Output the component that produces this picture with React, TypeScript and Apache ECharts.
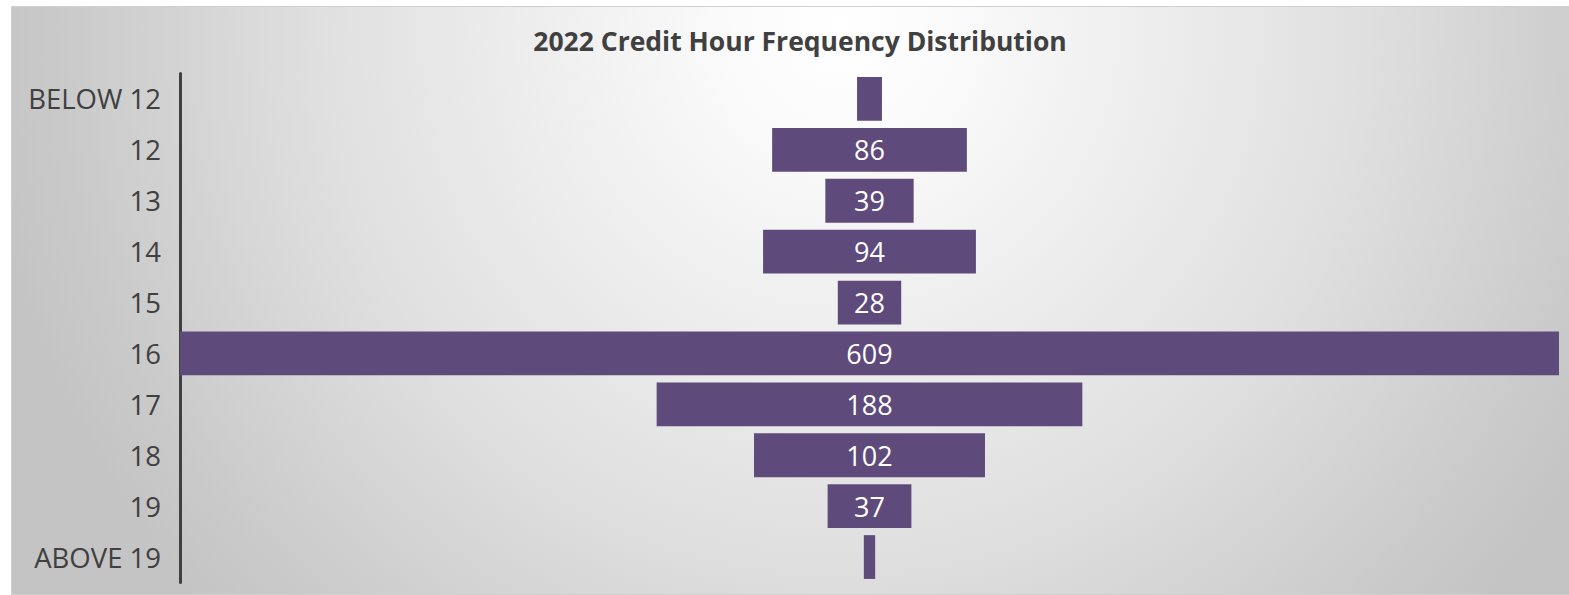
import React, { useEffect, useRef } from "react";
import * as echarts from "echarts";

const categories = ["BELOW 12", "12", "13", "14", "15", "16", "17", "18", "19", "ABOVE 19"];
const counts = [11, 86, 39, 94, 28, 609, 188, 102, 37, 5];

export default function App() {
  const ref = useRef<HTMLDivElement>(null);
  useEffect(() => {
    document.body.style.margin = "0";
    const chart = echarts.init(ref.current!, null, { renderer: "svg" });
    const maxV = Math.max(...counts);
    const offsets = counts.map((v) => (maxV - v) / 2);
    chart.setOption({
      animation: false,
      graphic: [
        {
          type: "rect",
          z: -10,
          silent: true,
          shape: { x: 11.5, y: 6.5, width: 1560, height: 588 },
          style: {
            fill: {
              type: "radial",
              x: 840,
              y: 30,
              r: 860,
              global: true,
              colorStops: [
                { offset: 0, color: "#ffffff" },
                { offset: 0.12, color: "#fbfbfb" },
                { offset: 0.6, color: "#e0e0e0" },
                { offset: 0.9, color: "#cacaca" },
                { offset: 1, color: "#c4c4c4" },
              ],
            },
            stroke: "#d0d0d0",
            lineWidth: 1,
          },
        },
      ],
      title: {
        text: "2022 Credit Hour Frequency Distribution",
        left: 795,
        textAlign: "center",
        top: 22,
        textStyle: {
          fontFamily: "Open Sans",
          fontWeight: "bold",
          fontSize: 26.5,
          color: "#404040",
        },
      },
      grid: { left: 180, right: 10, top: 73.5, bottom: 12.5, containLabel: false },
      xAxis: {
        type: "value",
        min: 0,
        max: maxV,
        show: false,
      },
      yAxis: {
        type: "category",
        inverse: true,
        data: categories,
        axisLine: { show: true, lineStyle: { color: "#404040", width: 3 } },
        axisTick: { show: false },
        axisLabel: {
          margin: 19,
          fontFamily: "Open Sans",
          fontSize: 27.5,
          color: "#404040",
        },
        splitLine: { show: false },
      },
      series: [
        {
          type: "bar",
          stack: "funnel",
          data: offsets,
          itemStyle: { color: "transparent" },
          barCategoryGap: "14%",
          silent: true,
        },
        {
          type: "bar",
          stack: "funnel",
          data: counts,
          barCategoryGap: "14%",
          itemStyle: { color: "#5f4b7b" },
          label: {
            show: true,
            position: "inside",
            fontFamily: "Open Sans",
            fontSize: 27,
            color: "#ffffff",
            formatter: (p: any) => (p.value >= 20 ? String(p.value) : ""),
          },
        },
      ],
    });
    return () => chart.dispose();
  }, []);
  return <div ref={ref} style={{ width: 1569, height: 595 }} />;
}
